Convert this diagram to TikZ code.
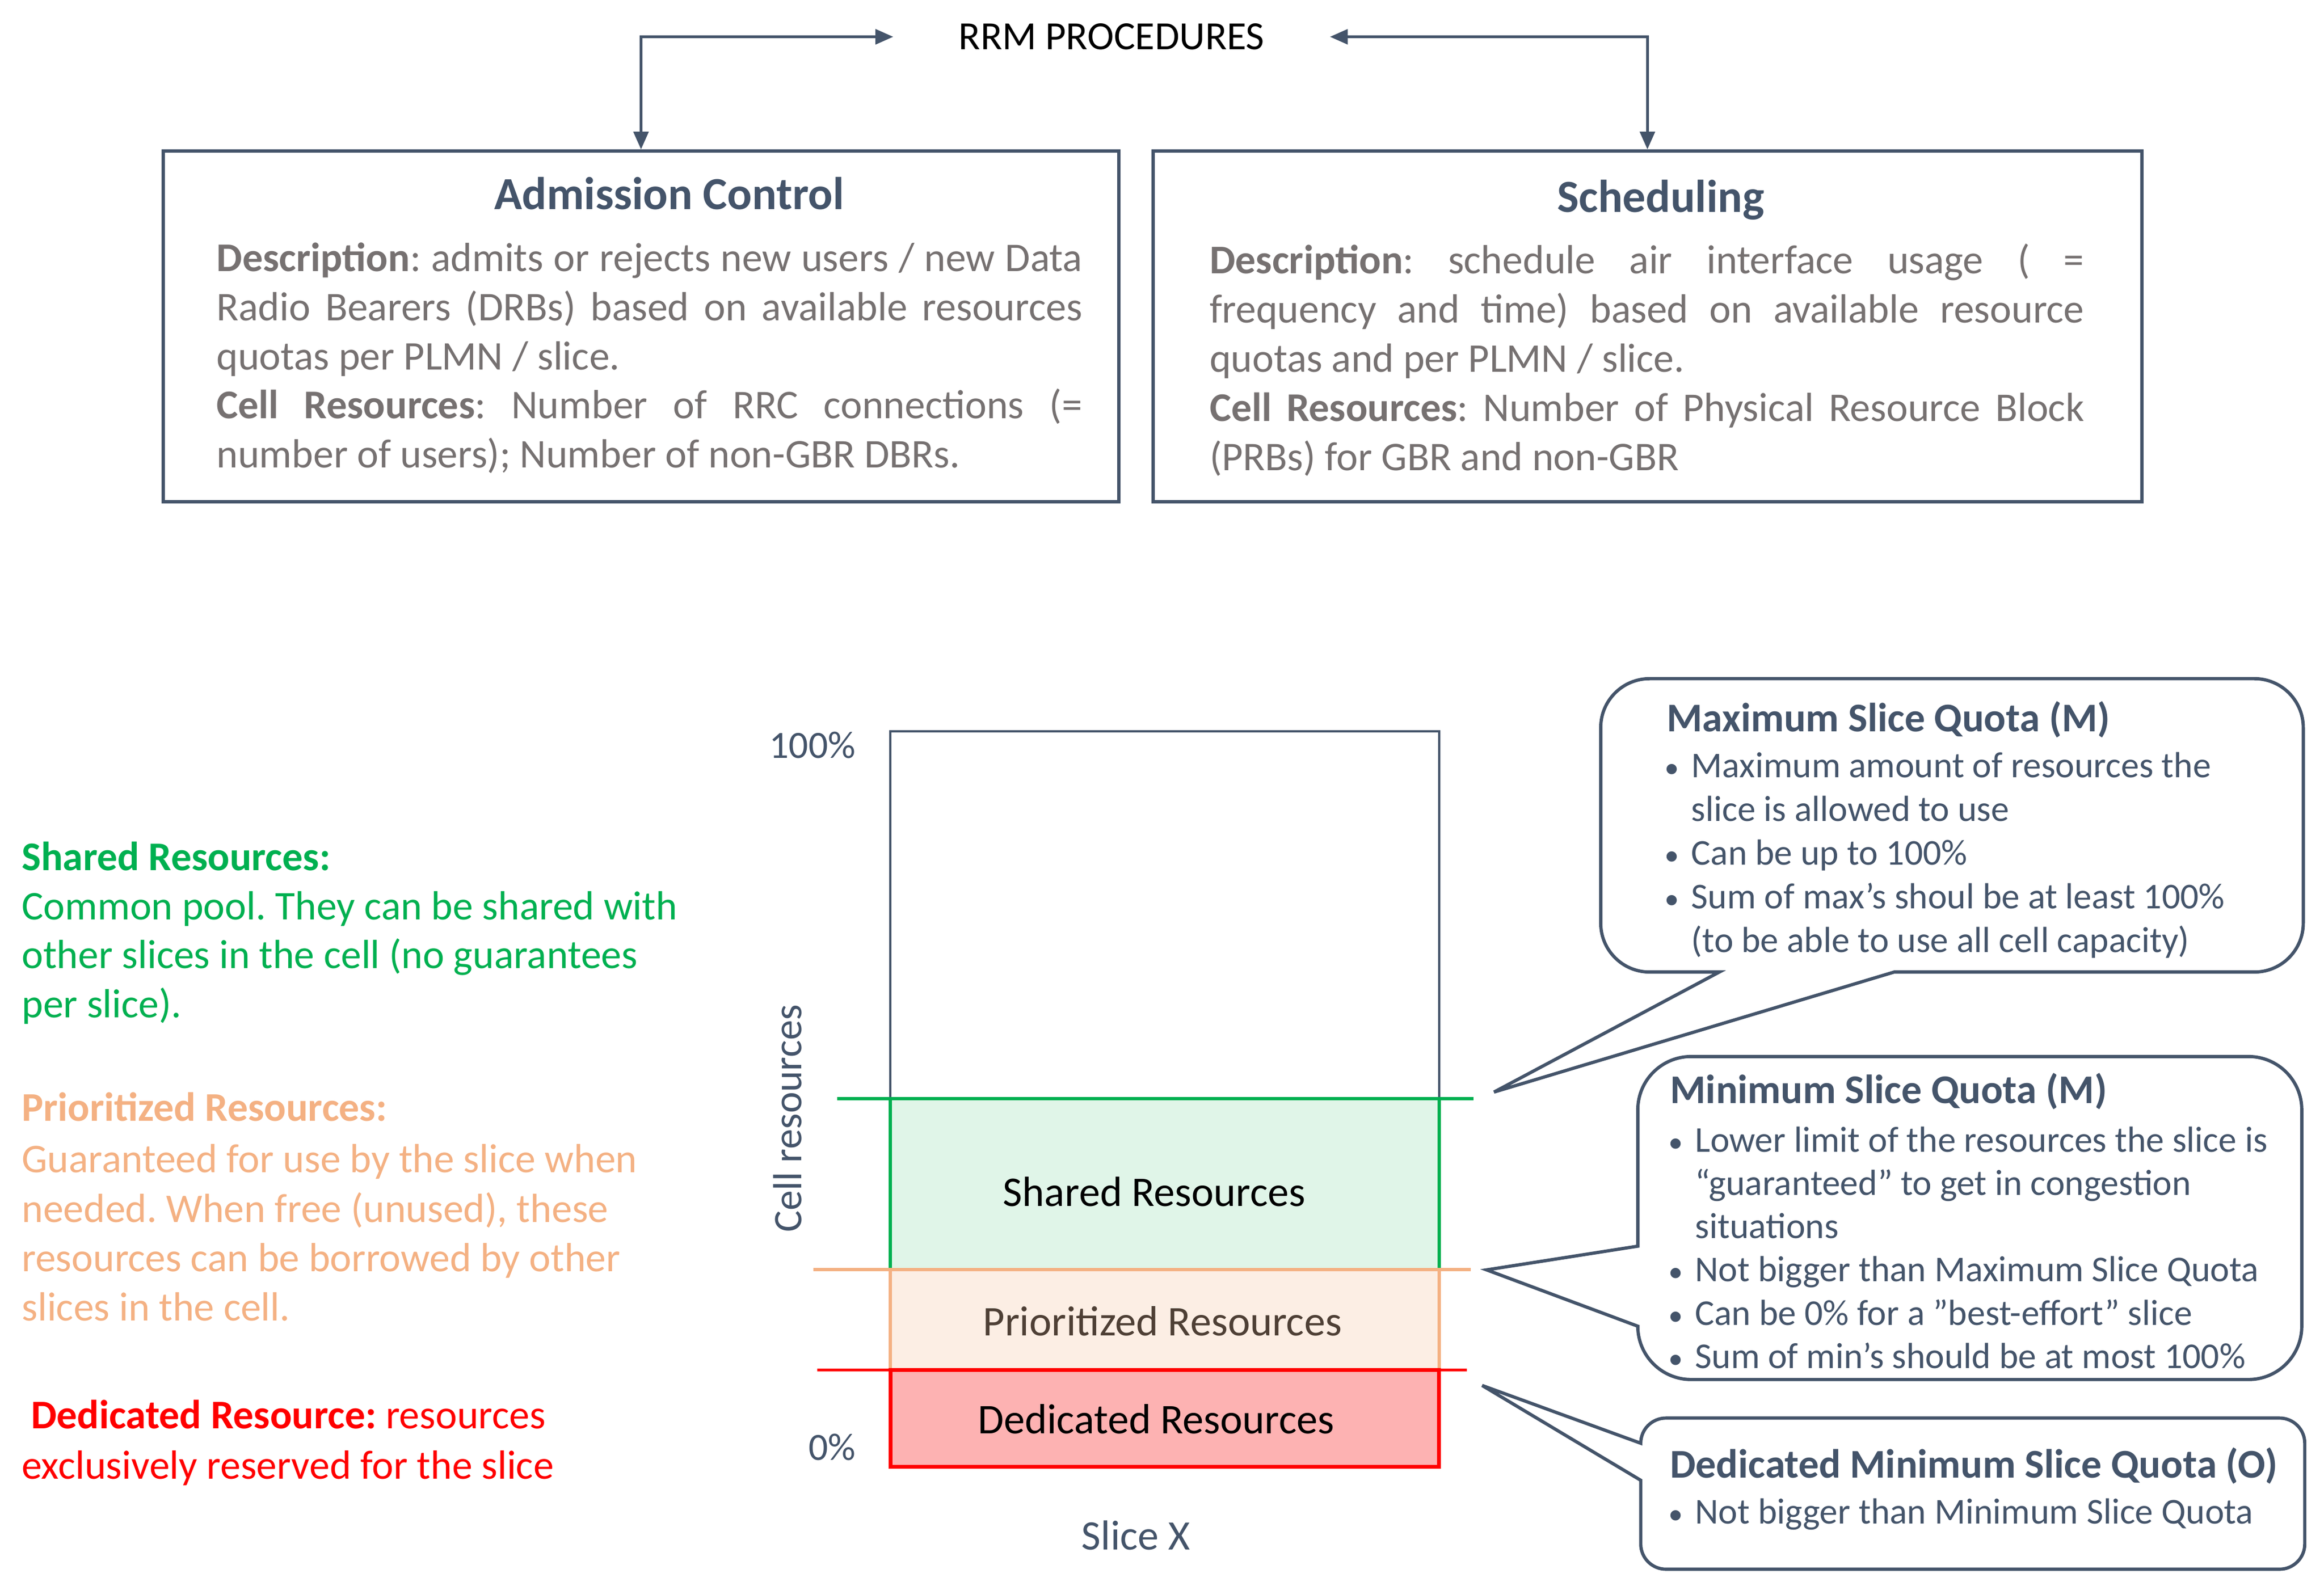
\documentclass[tikz,border=0pt]{standalone}
\usepackage{fontspec}
\setmainfont{Carlito}
\usepackage{tikz}
\usetikzlibrary{arrows.meta}

\setlength{\parindent}{0pt}
\setlength{\parskip}{0pt}
\tolerance=10000
\frenchspacing

\definecolor{slate}{HTML}{44546A}
\definecolor{descgray}{HTML}{767171}
\definecolor{sharedgreen}{HTML}{00B050}
\definecolor{sharedfill}{HTML}{E0F5E8}
\definecolor{priororange}{HTML}{F4B183}
\definecolor{priorfill}{HTML}{FCEEE4}
\definecolor{priortext}{HTML}{4E3F35}
\definecolor{dedred}{HTML}{FF0000}
\definecolor{dedfill}{HTML}{FDB2B2}

\newcommand{\calloutbullet}{\makebox[18pt][l]{\scalebox{0.8}{\textbullet}}}
\newcommand{\calloutindent}{\hspace*{18pt}}

\tikzset{
  procbox/.style={draw=slate, line width=2.3pt, inner sep=0pt, minimum height=236.7pt},
  boxtitle/.style={text=slate, font=\fontsize{31}{37}\selectfont\bfseries, anchor=base, inner sep=0pt},
  boxdesc/.style={text=descgray, font=\fontsize{27.5}{33.2}\selectfont, anchor=north west, inner sep=0pt, align=justify},
  rrmarrow/.style={draw=slate, line width=2pt, {Triangle[length=12pt,width=10pt]}-{Triangle[length=12pt,width=10pt]}},
  sidetext/.style={anchor=north west, inner sep=0pt, align=left},
  calloutshape/.style={draw=slate, line width=2.2pt, fill=white},
  callouttitle/.style={text=slate, font=\fontsize{27.5}{33}\selectfont\bfseries, anchor=base west, inner sep=0pt},
  callouttext/.style={text=slate, anchor=north west, inner sep=0pt, align=left},
  barlabel/.style={font=\fontsize{28.5}{34}\selectfont, anchor=base, inner sep=0pt},
  axislabel/.style={text=slate, inner sep=0pt}
}

\begin{document}
\begin{tikzpicture}[x=1pt,y=1pt,yscale=-1,xscale=1]
\useasboundingbox (0,0) rectangle (1568,1070);

% Text Node
\draw (750,33.5) node [anchor=base][inner xsep=44pt, inner ysep=0pt, font=\fontsize{27}{32}\selectfont] (rrm) {RRM PROCEDURES};

%Shape: Rectangle
\draw (432.5,220.35) node [procbox, minimum width=645pt] (admission) {};
%Shape: Rectangle
\draw (1111.5,220.35) node [procbox, minimum width=667pt] (scheduling) {};

%Connectors
\draw [rrmarrow] (rrm.west) -| (admission.north);
\draw [rrmarrow] (rrm.east) -| (scheduling.north);

% Text Node
\draw (451.5,141.4) node [boxtitle] (admtitle) {Admission Control};
% Text Node
\draw (1120.5,143) node [boxtitle] (schtitle) {Scheduling};
% Text Node
\draw (146,159.56) node [boxdesc, text width=584pt] (admdesc) {\strut\textbf{Description}: admits or rejects new users / new Data\linebreak Radio Bearers (DRBs) based on available resources\linebreak quotas per PLMN / slice.\par\textbf{Cell Resources}: Number of RRC connections (=\linebreak number of users); Number of non-GBR DBRs.};
% Text Node
\draw (816,161.16) node [boxdesc, text width=590pt] (schdesc) {\strut\textbf{Description}: schedule air interface usage ( =\linebreak frequency and time) based on available resource\linebreak quotas and per PLMN / slice.\par\textbf{Cell Resources}: Number of Physical Resource Block\linebreak (PRBs) for GBR and non-GBR};

% Text Node
\draw (14.5,564.3) node [sidetext, text=sharedgreen, font=\fontsize{27.5}{33}\selectfont] (sharedtxt) {\strut\textbf{Shared Resources:}\\Common pool. They can be shared with\\other slices in the cell (no guarantees\\per slice).};
% Text Node
\draw (14.5,733.1) node [sidetext, text=priororange, font=\fontsize{27.5}{33.3}\selectfont] (priortxt) {\strut\textbf{Prioritized Resources:}\\[1.5pt]Guaranteed for use by the slice when\\needed. When free (unused), these\\resources can be borrowed by other\\slices in the cell.};
% Text Node
\draw (14.5,939.9) node [sidetext, text=dedred, font=\fontsize{27.5}{34.2}\selectfont] (dedtxt) {\strut\ \textbf{Dedicated Resource:} resources\\exclusively reserved for the slice};

%Shape: Rectangle
\draw [slate, line width=1.4pt] (600.7,493.6) rectangle (971,989.9);
%Shape: Rectangle
\draw [sharedgreen, line width=2.2pt, fill=sharedfill] (600.7,741.3) rectangle (971,856.8);
%Straight Lines
\draw [sharedgreen, line width=2.2pt] (564.9,741.3) -- (994,741.3);
%Shape: Rectangle
\draw [priororange, line width=2.2pt, fill=priorfill] (600.7,856.8) rectangle (971,924.5);
%Straight Lines
\draw [priororange, line width=2.2pt] (548.8,856.8) -- (992.3,856.8);
%Shape: Rectangle
\draw [dedred, line width=2.6pt, fill=dedfill] (600.7,924.5) rectangle (971,989.8);
%Straight Lines
\draw [dedred, line width=2pt] (551.4,924.5) -- (989.6,924.5);

% Text Node
\draw (778.8,814.1) node [barlabel] (sharedlbl) {Shared Resources};
% Text Node
\draw (784.3,901.4) node [barlabel, text=priortext] (priorlbl) {Prioritized Resources};
% Text Node
\draw (780,967.6) node [barlabel] (dedlbl) {Dedicated Resources};
% Text Node
\draw (577.5,511.7) node [axislabel, anchor=base east, font=\fontsize{26}{31}\selectfont] (top) {100\%};
% Text Node
\draw (577.5,985.3) node [axislabel, anchor=base east, font=\fontsize{26}{31}\selectfont] (bottom) {0\%};
% Text Node
\draw (540.6,754.8) node [axislabel, anchor=base, rotate=90, font=\fontsize{27.3}{33}\selectfont] (cellres) {Cell resources};
% Text Node
\draw (766.4,1045.7) node [axislabel, anchor=base, font=\fontsize{28.3}{34}\selectfont] (slicex) {Slice X};

%Shape: Callout
\draw [calloutshape] (1278,656) -- (1521,656) arc[start angle=90, end angle=0, radius=33] -- (1554,491) arc[start angle=0, end angle=-90, radius=33] -- (1113,458) arc[start angle=270, end angle=180, radius=33] -- (1080,623) arc[start angle=180, end angle=90, radius=33] -- (1160,656) -- (1008,737) -- cycle;
%Shape: Callout
\draw [calloutshape] (1105,841) -- (1105,749) arc[start angle=180, end angle=270, radius=36] -- (1517,713) arc[start angle=270, end angle=360, radius=36] -- (1553,895) arc[start angle=0, end angle=90, radius=36] -- (1141,931) arc[start angle=90, end angle=180, radius=36] -- (1003,857) -- cycle;
%Shape: Callout
\draw [calloutshape] (1107,999) -- (1107,1042) arc[start angle=180, end angle=90, radius=17] -- (1538,1059) arc[start angle=90, end angle=0, radius=17] -- (1555,974) arc[start angle=0, end angle=-90, radius=17] -- (1124,957) arc[start angle=270, end angle=180, radius=17] -- (1000,935) -- cycle;

% Text Node
\draw (1124.4,493.6) node [callouttitle] (maxtitle) {Maximum Slice Quota (M)};
% Text Node
\draw (1123,503.85) node [callouttext, font=\fontsize{24.5}{29.5}\selectfont] (maxtxt) {\strut\calloutbullet Maximum amount of resources the\\\calloutindent slice is allowed to use\\\calloutbullet Can be up to 100\%\\\calloutbullet Sum of max’s shoul be at least 100\%\\\calloutindent (to be able to use all cell capacity)};
% Text Node
\draw (1126.7,744.7) node [callouttitle] (mintitle) {Minimum Slice Quota (M)};
% Text Node
\draw (1125.5,756.76) node [callouttext, font=\fontsize{24.5}{29.2}\selectfont] (mintxt) {\strut\calloutbullet Lower limit of the resources the slice is\\\calloutindent “guaranteed” to get in congestion\\\calloutindent situations\\\calloutbullet Not bigger than Maximum Slice Quota\\\calloutbullet Can be 0\% for a ”best-effort” slice\\\calloutbullet Sum of min’s should be at most 100\%};
% Text Node
\draw (1126.7,997.4) node [callouttitle] (dedtitle) {Dedicated Minimum Slice Quota (O)};
% Text Node
\draw (1125.5,1007.65) node [callouttext, font=\fontsize{24.5}{29.5}\selectfont] (dedquota) {\strut\calloutbullet Not bigger than Minimum Slice Quota};

\end{tikzpicture}
\end{document}
